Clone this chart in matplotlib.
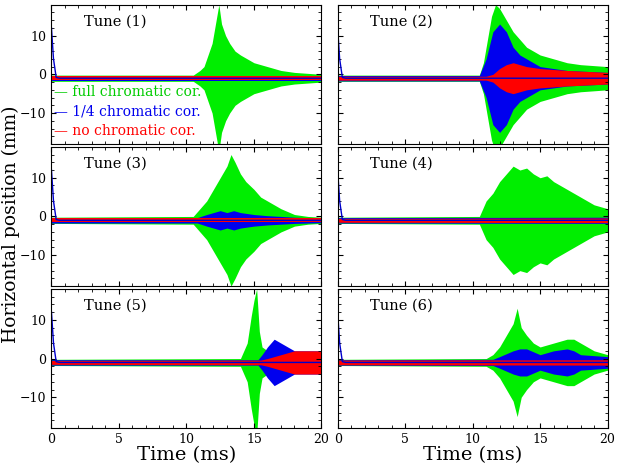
import matplotlib
matplotlib.use("Agg")
import matplotlib.pyplot as plt
from matplotlib.ticker import MultipleLocator

plt.rcParams['font.family'] = ['DejaVu Serif']

# time samples (ms) and beam centroid (mm)
t_c = [0, 0.15, 0.35, 0.6, 20]
center = [12, 4, -0.8, -1.0, -1.0]

titles = ["Tune (1)", "Tune (2)", "Tune (3)", "Tune (4)", "Tune (5)", "Tune (6)"]

# envelope half-widths (mm): (times, widths)
green = [
    ([0, 10.5, 11, 11.3, 11.6, 11.9, 12.1, 12.4, 12.6, 12.9, 13.2, 13.6, 14, 14.5, 15, 16, 17, 18, 20],
     [0.8, 0.8, 2, 3, 6, 9, 13, 19, 14, 11, 9, 7, 6, 5, 4, 3, 2, 1.5, 1]),
    ([0, 10.5, 10.8, 11.1, 11.4, 11.7, 12, 12.5, 13, 13.5, 14, 14.5, 15, 16, 17, 18, 20],
     [0.8, 0.8, 4, 10, 16, 19, 18, 15, 12, 10, 8, 7, 6, 5, 4, 3.5, 3]),
    ([0, 10.5, 11, 11.5, 12, 12.5, 13, 13.3, 13.6, 14, 14.4, 15, 15.5, 16, 17, 18, 19, 20],
     [0.8, 1, 3, 5, 8, 11, 14, 17, 15, 12, 10, 8, 6, 5, 3, 1.5, 1, 0.8]),
    ([0, 10.5, 11, 11.5, 12, 12.5, 13, 13.5, 14, 14.5, 15, 15.5, 16, 16.5, 17, 18, 19, 20],
     [0.8, 1, 5, 7, 10, 12, 14, 13, 13.5, 12, 11, 11.5, 10, 9, 8, 6, 4, 3]),
    ([0, 14, 14.5, 14.8, 15.0, 15.2, 15.4, 15.6, 16, 16.5, 17, 17.5, 18, 20],
     [0.8, 1, 5, 12, 16, 19, 8, 4, 3, 3.5, 4, 2.5, 2, 1.5]),
    ([0, 11, 11.5, 12, 12.5, 13, 13.3, 13.6, 14, 14.5, 15, 15.5, 16, 16.5, 17, 17.5, 18, 19, 20],
     [0.8, 1, 2, 4, 7, 10, 14, 9, 7, 5, 4, 4.5, 5, 5.5, 6, 6, 5, 3, 2]),
]
blue = [
    ([0, 20], [0.7, 0.7]),
    ([0, 10.5, 11, 11.5, 12, 12.5, 13, 13.5, 14, 15, 16, 17, 20], [0.7, 0.7, 5, 12, 14, 12, 8, 6, 5, 3, 2.5, 2, 1.5]),
    ([0, 10.8, 11.5, 12, 12.5, 13, 13.5, 14, 15, 16, 17, 18, 20], [0.7, 0.7, 1.5, 2, 2.5, 2, 2.5, 2, 1.5, 1.2, 1, 0.8, 0.6]),
    ([0, 20], [0.7, 0.8]),
    ([0, 15.3, 15.6, 16, 16.5, 17, 17.5, 18, 19, 20], [0.7, 0.7, 2, 4, 6, 5, 4, 3, 3, 3]),
    ([0, 11.5, 12, 13, 13.5, 14, 15, 16, 17, 17.5, 18, 20], [0.7, 0.8, 1.5, 3, 3.5, 3.5, 2, 3, 3.5, 3, 2, 1.5]),
]
red = [
    ([0, 20], [0.5, 0.5]),
    ([0, 11, 11.5, 12, 12.5, 13, 13.5, 14, 15, 17, 20], [0.5, 0.5, 1, 2.5, 3.5, 4, 3.5, 3, 2.5, 2, 1.5]),
    ([0, 20], [0.5, 0.5]),
    ([0, 20], [0.5, 0.6]),
    ([0, 15.5, 16, 17, 18, 19, 20], [0.5, 0.6, 1, 2, 3, 3, 3]),
    ([0, 20], [0.6, 0.7]),
]

fig, axes = plt.subplots(3, 2, figsize=(6.2, 4.68), dpi=100, sharex=True, sharey=True)
fig.subplots_adjust(left=0.083, right=0.98, top=0.99, bottom=0.085, wspace=0.06, hspace=0.02)

for i, ax in enumerate(axes.flat):
    for env, col in ((green[i], '#00ee00'), (blue[i], '#0000ee'), (red[i], '#ff0000')):
        tt, ww = env
        ax.fill_between(tt, [-1 - w for w in ww], [-1 + w for w in ww], color=col, lw=0)
    ax.plot(t_c, center, color='#0000cc', lw=1)
    ax.set_xlim(0, 20)
    ax.set_ylim(-18, 18)
    ax.xaxis.set_major_locator(MultipleLocator(5))
    ax.xaxis.set_minor_locator(MultipleLocator(1))
    ax.yaxis.set_major_locator(MultipleLocator(10))
    ax.yaxis.set_minor_locator(MultipleLocator(2))
    ax.tick_params(which='both', direction='in', top=True, right=True, labelsize=9)
    ax.text(0.12, 0.93, titles[i], transform=ax.transAxes, fontsize=10.5, va='top')

ax = axes[0, 0]
for k, (lab, col) in enumerate([("full chromatic cor.", '#00cc00'),
                                ("1/4 chromatic cor.", '#0000ee'),
                                ("no chromatic cor.", '#ff0000')]):
    ax.text(0.01, 0.37 - k * 0.14, "— " + lab, transform=ax.transAxes, color=col, fontsize=10, va='center')

for ax in axes[2]:
    ax.set_xlabel("Time (ms)", fontsize=14, labelpad=0)
fig.text(0.003, 0.52, "Horizontal position (mm)", rotation=90, va='center', fontsize=13.5)

fig.savefig("out.png")
